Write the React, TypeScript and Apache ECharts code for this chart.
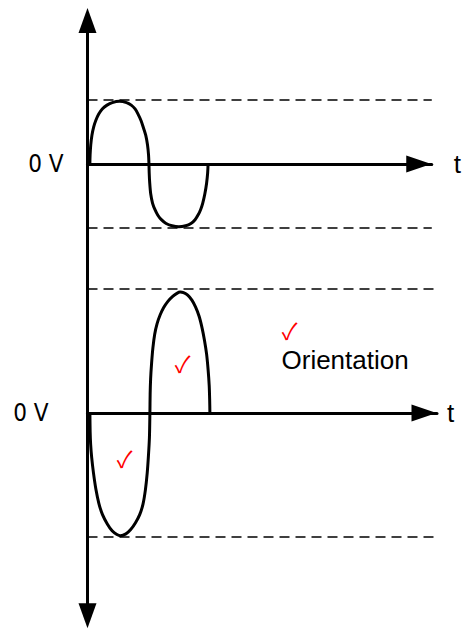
import React, { useEffect, useRef } from "react";
import * as echarts from "echarts";

// ---- data ----
// time in half-periods, value in volts (arbitrary units)
const topWave: [number, number][] = [
  [0, 0], [0.004, 0.14], [0.015, 0.3], [0.035, 0.45], [0.065, 0.58], [0.1, 0.68],
  [0.15, 0.78], [0.21, 0.86], [0.29, 0.92], [0.38, 0.96], [0.5, 0.98], [0.62, 0.96],
  [0.7, 0.92], [0.765, 0.86], [0.815, 0.78], [0.865, 0.68], [0.905, 0.57], [0.945, 0.45],
  [0.975, 0.3], [0.993, 0.14], [1, 0],
  [1.004, -0.14], [1.013, -0.3], [1.03, -0.47], [1.06, -0.61], [1.1, -0.71],
  [1.15, -0.8], [1.21, -0.87], [1.29, -0.93], [1.39, -0.965], [1.505, -0.98], [1.62, -0.965],
  [1.71, -0.93], [1.78, -0.87], [1.835, -0.79], [1.875, -0.71], [1.91, -0.61], [1.945, -0.47],
  [1.975, -0.3], [1.993, -0.14], [2, 0],
];
const bottomWave: [number, number][] = [
  [0, 0], [0.004, -0.3], [0.012, -0.5], [0.03, -0.72], [0.06, -0.97], [0.1, -1.23],
  [0.15, -1.46], [0.21, -1.64], [0.29, -1.79], [0.37, -1.9], [0.45, -1.96], [0.508, -1.98],
  [0.6, -1.95], [0.68, -1.88], [0.76, -1.77], [0.83, -1.64], [0.885, -1.47], [0.925, -1.24],
  [0.955, -0.97], [0.975, -0.7], [0.992, -0.4], [1, 0],
  [1.004, 0.3], [1.012, 0.55], [1.028, 0.8], [1.05, 1.05], [1.08, 1.27], [1.12, 1.44],
  [1.17, 1.58], [1.23, 1.7], [1.3, 1.8], [1.38, 1.88], [1.45, 1.93], [1.505, 1.95],
  [1.56, 1.94], [1.63, 1.9], [1.7, 1.82], [1.76, 1.71], [1.82, 1.56], [1.87, 1.37],
  [1.91, 1.17], [1.945, 0.95], [1.97, 0.7], [1.988, 0.45], [1.996, 0.22], [2, 0],
];
const topRefLevels = [1, -1];
const bottomRefLevels = [2, -2];
const zeroTicks = [0];
const zeroLabel = "0 V";
const timeName = "t";
const noteText = "Orientation";
const checkMark = "\u2713";

const SANS = "'Liberation Sans', Arial, sans-serif";
const NARROW = "'Liberation Sans Narrow', 'DejaVu Sans Condensed', 'Liberation Sans', sans-serif";

export default function App() {
  const ref = useRef<HTMLDivElement>(null);
  useEffect(() => {
    if (!ref.current) return;
    const chart = echarts.init(ref.current, null, { renderer: "svg" });
    const axisLineStyle = { color: "#000", width: 3 };
    const mkX = (i: number) => ({
      type: "value",
      gridIndex: i,
      min: -0.04,
      max: 5.785,
      axisLine: {
        show: true,
        onZero: true,
        symbol: ["none", "triangle"],
        symbolSize: [17, 25],
        symbolOffset: [0, -13],
        lineStyle: axisLineStyle,
      },
      axisTick: { show: false },
      axisLabel: { show: false },
      splitLine: { show: false },
      name: timeName,
      nameLocation: "end",
      nameGap: i === 0 ? 22 : 10,
      nameTextStyle: { fontSize: 26, fontFamily: SANS, color: "#000", padding: [0, 0, 6, 0] },
    });
    const mkY = (i: number, min: number, max: number, margin: number, sym: string[]) => ({
      type: "value",
      gridIndex: i,
      min,
      max,
      axisLine: {
        show: true,
        onZero: false,
        symbol: sym,
        symbolSize: [18, 25],
        lineStyle: axisLineStyle,
      },
      axisTick: { show: false },
      splitLine: { show: false },
      axisLabel: {
        show: true,
        customValues: zeroTicks,
        formatter: () => zeroLabel,
        margin,
        fontSize: 24,
        fontFamily: NARROW,
        color: "#000",
      },
    });
    const markLine = (levels: number[]) => ({
      silent: true,
      symbol: ["none", "none"],
      label: { show: false },
      lineStyle: { color: "#000", width: 1.6, type: [10, 6] },
      data: levels.map((v) => ({ yAxis: v })),
    });
    const checkText = (x: number, y: number) => ({
      type: "text",
      x,
      y,
      style: {
        text: checkMark,
        fontSize: 23,
        lineHeight: 14,
        fill: "#ff0000",
        align: "center",
        verticalAlign: "middle",
        fontFamily: "'Noto Sans CJK JP', 'Noto Sans CJK SC', sans-serif",
      },
    });
    chart.setOption({
      animation: false,
      backgroundColor: "#fff",
      grid: [
        { left: 87.5, top: 20.5, width: 349.5, height: 239.5 },
        { left: 87.5, top: 260, width: 349.5, height: 355.8 },
      ],
      xAxis: [mkX(0), mkX(1)],
      yAxis: [
        mkY(0, -1.5, 2.2422, 24, ["none", "triangle"]),
        mkY(1, -3.271, 2.4677, 39, ["triangle", "none"]),
      ],
      series: [
        {
          type: "line",
          xAxisIndex: 0,
          yAxisIndex: 0,
          data: topWave,
          showSymbol: false,
          symbol: "none",
          smooth: 0.3,
          lineStyle: { color: "#000", width: 3 },
          markLine: markLine(topRefLevels),
        },
        {
          type: "line",
          xAxisIndex: 1,
          yAxisIndex: 1,
          data: bottomWave,
          showSymbol: false,
          symbol: "none",
          smooth: 0.3,
          lineStyle: { color: "#000", width: 3 },
          markLine: markLine(bottomRefLevels),
        },
      ],
      graphic: [
        {
          type: "text",
          x: 281.5,
          y: 360,
          style: {
            text: noteText,
            fontSize: 26,
            lineHeight: 20,
            fontFamily: SANS,
            fill: "#000",
            align: "left",
            verticalAlign: "middle",
          },
        },
        checkText(289.5, 329.5),
        checkText(182.7, 363),
        checkText(124.5, 457.5),
      ],
    });
    return () => chart.dispose();
  }, []);
  return (
    <div
      ref={ref}
      style={{ position: "absolute", left: 0, top: 0, width: 462, height: 630 }}
    />
  );
}
